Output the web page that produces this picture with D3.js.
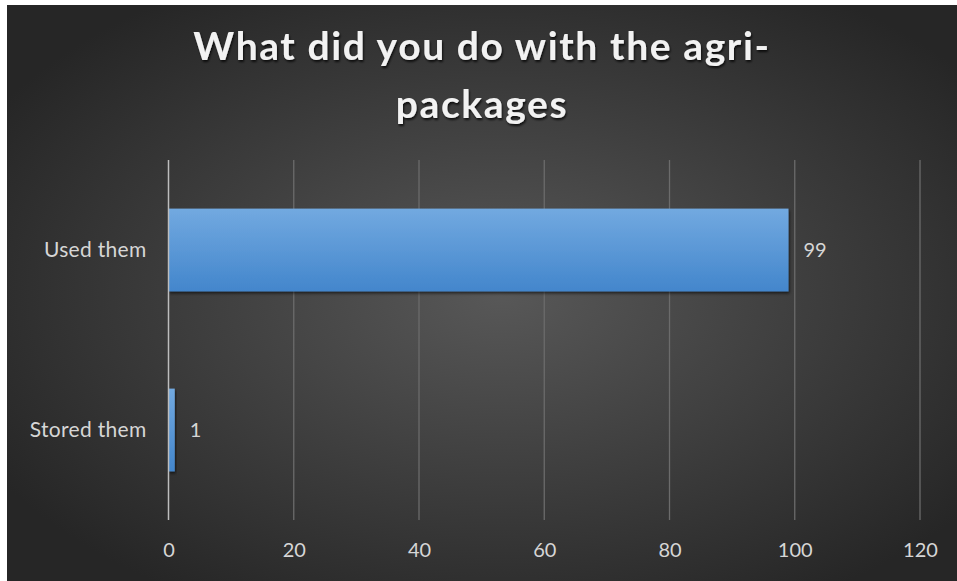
<!DOCTYPE html>
<html>
<head>
<meta charset="utf-8">
<script src="https://cdn.jsdelivr.net/npm/d3@7"></script>
<style>
  html, body { margin: 0; padding: 0; background: #ffffff; }
  svg { display: block; }
</style>
</head>
<body>
<svg id="chart" width="957" height="581"></svg>
<script>
// Survey answers
const categories = ["Used them", "Stored them"];
const counts = [99, 1];
const xTicks = [0, 20, 40, 60, 80, 100, 120];
const titleLines = ["What did you do with the agri-", "packages"];

const W = 957, H = 581;
const svg = d3.select("#chart");
const defs = svg.append("defs");

// Dark vignette background
const bg = defs.append("radialGradient").attr("id", "bgGrad")
  .attr("cx", "52%").attr("cy", "50%").attr("r", "62%");
bg.append("stop").attr("offset", "0%").attr("stop-color", "#585858");
bg.append("stop").attr("offset", "100%").attr("stop-color", "#262626");

// Bar fill, light top to deeper blue bottom
const barGrad = defs.append("linearGradient").attr("id", "barGrad")
  .attr("x1", 0).attr("y1", 0).attr("x2", 0).attr("y2", 1);
barGrad.append("stop").attr("offset", "0%").attr("stop-color", "#72a9e0");
barGrad.append("stop").attr("offset", "100%").attr("stop-color", "#4386cc");

const shadow = defs.append("filter").attr("id", "barShadow")
  .attr("x", "-10%").attr("y", "-10%").attr("width", "130%").attr("height", "140%");
shadow.append("feDropShadow").attr("dx", 1).attr("dy", 2).attr("stdDeviation", 1.5)
  .attr("flood-color", "#000").attr("flood-opacity", 0.6);

const tShadow = defs.append("filter").attr("id", "titleShadow")
  .attr("x", "-5%").attr("y", "-20%").attr("width", "110%").attr("height", "150%");
tShadow.append("feDropShadow").attr("dx", 1).attr("dy", 2).attr("stdDeviation", 1.2)
  .attr("flood-color", "#000").attr("flood-opacity", 0.75);

svg.append("rect").attr("x", 0).attr("y", 0).attr("width", W).attr("height", H).attr("fill", "#ffffff");
svg.append("rect").attr("x", 7).attr("y", 5).attr("width", W - 7).attr("height", H - 5)
  .attr("fill", "url(#bgGrad)");

// Plot area
const plot = { left: 168.5, right: 920, top: 160, bottom: 520 };
const labelFont = "Lato, 'Open Sans', sans-serif";

const x = d3.scaleLinear().domain([0, 120]).range([plot.left, plot.right]);
const y = d3.scaleBand().domain(categories).range([plot.top, plot.bottom])
  .paddingInner(0.54).paddingOuter(0.27);

// Vertical gridlines
svg.append("g").selectAll("line").data(xTicks.filter(d => d !== 0)).join("line")
  .attr("x1", d => x(d)).attr("x2", d => x(d))
  .attr("y1", plot.top).attr("y2", plot.bottom)
  .attr("stroke", "#6b6b6b").attr("stroke-width", 1.3);

// X axis labels
const xAxis = d3.axisBottom(x).tickValues(xTicks).tickSize(0).tickPadding(0);
const gx = svg.append("g").attr("transform", `translate(0, ${plot.bottom + 23})`).call(xAxis);
gx.select(".domain").remove();
gx.selectAll("text")
  .attr("fill", "#d6d6d6").attr("font-family", labelFont)
  .attr("font-size", 20).attr("dy", "0.71em");

// Bars
svg.append("g").selectAll("rect").data(categories).join("rect")
  .attr("x", x(0))
  .attr("y", d => y(d))
  .attr("width", (d, i) => x(counts[i]) - x(0))
  .attr("height", y.bandwidth())
  .attr("fill", "url(#barGrad)")
  .attr("filter", "url(#barShadow)");

// Zero axis line
svg.append("line").attr("x1", x(0)).attr("x2", x(0))
  .attr("y1", plot.top).attr("y2", plot.bottom)
  .attr("stroke", "#bdbdbd").attr("stroke-width", 1.5);

// Category labels
const yAxis = d3.axisLeft(y).tickSize(0).tickPadding(22);
const gy = svg.append("g").attr("transform", `translate(${x(0)}, 0)`).call(yAxis);
gy.select(".domain").remove();
gy.selectAll("text")
  .attr("fill", "#d6d6d6").attr("font-family", labelFont)
  .attr("font-size", 21).attr("letter-spacing", 0.3);

// Value labels
svg.append("g").selectAll("text").data(categories).join("text")
  .attr("x", (d, i) => x(counts[i]) + 15)
  .attr("y", d => y(d) + y.bandwidth() / 2)
  .attr("dy", "0.35em")
  .attr("fill", "#d6d6d6").attr("font-family", labelFont)
  .attr("font-size", 20)
  .text((d, i) => counts[i]);

// Title
svg.append("g").selectAll("text").data(titleLines).join("text")
  .attr("x", 482)
  .attr("y", (d, i) => 60 + i * 58)
  .attr("text-anchor", "middle")
  .attr("fill", "#f2f2f2")
  .attr("font-family", labelFont)
  .attr("font-weight", "bold")
  .attr("font-size", 39)
  .attr("letter-spacing", 1.6)
  .attr("filter", "url(#titleShadow)")
  .text(d => d);
</script>
</body>
</html>
